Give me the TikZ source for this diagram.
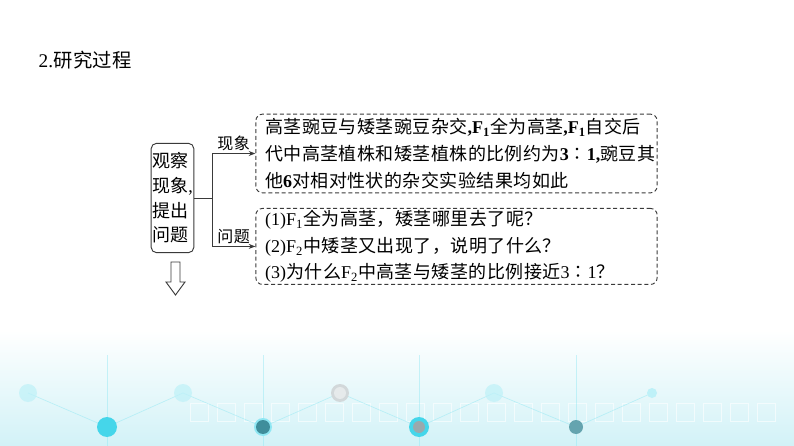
\documentclass[tikz,border=0pt]{standalone}
\usepackage{fontspec}
\setmainfont{Noto Sans CJK SC}[LetterSpace=2.5]
\newfontfamily\latn{Liberation Serif}
\usetikzlibrary{arrows.meta,positioning,calc}
\definecolor{LineGray}{HTML}{3A3A3A}
\definecolor{SoftCyan}{HTML}{D2F2F7}
\definecolor{DotCyan}{HTML}{45D6EA}
\definecolor{DotTeal}{HTML}{3F8E9B}
\definecolor{DotGray}{HTML}{9AA9AD}
\newcommand{\Fb}[1]{{\latn\bfseries F\textsubscript{#1}}}
\newcommand{\Fr}[1]{{\latn F\textsubscript{#1}}}
\newcommand{\nb}[1]{{\latn\bfseries #1}}
\tikzset{
  obsbox/.style={rectangle,rounded corners=4pt,draw=LineGray,line width=0.7pt,
                 minimum width=32pt,minimum height=82pt,inner sep=0pt,
                 align=left,font=\fontsize{13.5}{18.5}\selectfont},
  txtbox/.style={rectangle,rounded corners=5pt,draw=LineGray,line width=0.7pt,
                 dash pattern=on 3pt off 2pt,minimum width=301pt,
                 inner xsep=7pt,inner ysep=0pt,text width=287pt,align=left,
                 font=\fontsize{13.5}{20}\selectfont},
  arr/.style={-{Stealth[length=5pt]},line width=0.7pt,draw=LineGray},
  link/.style={line width=0.7pt,draw=LineGray},
  lbl/.style={font=\fontsize{12}{13}\selectfont,inner sep=1.5pt},
  hollow/.style={draw=LineGray,line width=0.7pt,fill=white}
}
\begin{document}
\begin{tikzpicture}[x=0.75pt,y=-0.75pt,node distance=11pt and 20pt]
  \useasboundingbox (0,0) rectangle (794,446);
  % decorative band at the bottom
  \fill[top color=white,bottom color=SoftCyan] (0,330) rectangle (794,446);
  \foreach \x in {0,...,21} {\draw[white,line width=0.6pt,opacity=.6] (190+\x*27,403) rectangle ++(18,18);}
  \draw[DotCyan!60,line width=0.5pt,opacity=.5] (28,393) -- (107,427) -- (183,393) -- (263,427) -- (340,393) -- (419,427) -- (494,393) -- (576,427) -- (652,393);
  \foreach \x in {107,263,419,576} {\draw[DotCyan!60,line width=0.5pt,opacity=.45] (\x,446) -- (\x,355);}
  \foreach \x in {28,183,494} {\fill[DotCyan!35,opacity=.7] (\x,393) circle[radius=9];}
  \fill[DotGray!45] (340,393) circle[radius=9];
  \fill[DotGray!25] (340,393) circle[radius=6];
  \fill[DotCyan!35] (652,393) circle[radius=5];
  \fill[DotCyan] (107,427) circle[radius=10];
  \fill[DotCyan!60] (263,427) circle[radius=9];
  \fill[DotTeal] (263,427) circle[radius=7];
  \fill[DotCyan] (419,427) circle[radius=10];
  \fill[DotGray] (419,427) circle[radius=6];
  \fill[DotTeal!80] (576,427) circle[radius=7];

  \node[anchor=west,font=\fontsize{14.5}{16}\selectfont] (title) at (34,60) {{\latn 2.}研究过程};
  \node[obsbox] (obs) at (172.5,198) {观察\\现象{\latn ,}\\提出\\问题};
  \node[txtbox,minimum height=59pt] (phen) at (456.5,153.5) {高茎豌豆与矮茎豌豆杂交\nb{,}\Fb{1}全为高茎\nb{,}\Fb{1}自交后\\代中高茎植株和矮茎植株的比例约为\nb{3}∶\nb{1}\nb{,}豌豆其\\他\nb{6}对相对性状的杂交实验结果均如此};
  \node[txtbox,minimum height=57pt,below=11pt of phen] (ques) {{\latn(1)}\Fr{1}全为高茎，矮茎哪里去了呢？\\{\latn(2)}\Fr{2}中矮茎又出现了，说明了什么？\\{\latn(3)}为什么\Fr{2}中高茎与矮茎的比例接近{\latn 3}∶{\latn 1}？};
  \coordinate (jn) at (212,198);
  \draw[link] (obs.east) -- (jn);
  \draw[arr] (jn) |- (phen.west) node[lbl,pos=0.75,above] (lbA) {现象};
  \draw[arr] (jn) |- (ques.west) node[lbl,pos=0.75,above] (lbB) {问题};
  \draw[hollow] (171,262) -- (180,262) -- (180,282) -- (185,282) -- (175.5,295) -- (166,282) -- (171,282) -- cycle;
\end{tikzpicture}
\end{document}
